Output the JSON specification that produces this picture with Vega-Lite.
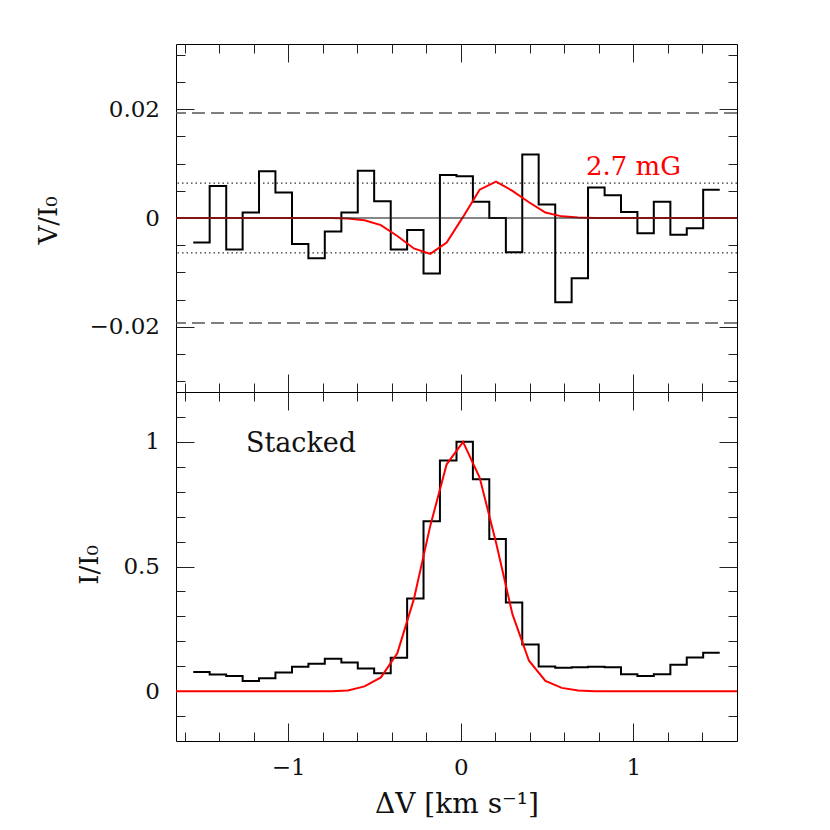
{
  "$schema": "https://vega.github.io/schema/vega-lite/v6.json",
  "width": 561,
  "height": 697,
  "autosize": {"type": "none"},
  "padding": {"left": 176, "top": 44, "right": 93, "bottom": 89},
  "background": "#ffffff",
  "config": {
    "view": {"stroke": "#000000", "strokeWidth": 1},
    "axis": {
      "grid": false,
      "domain": false,
      "labelFont": "DejaVu Serif",
      "labelFontSize": 23,
      "labelColor": "#111111",
      "titleFont": "DejaVu Serif",
      "titleFontSize": 26,
      "titleFontWeight": "normal",
      "titleColor": "#111111",
      "tickColor": "#222222",
      "tickWidth": 1,
      "labelOverlap": false,
      "labelFlush": false
    }
  },
  "datasets": {
    "vhist": [
      {"dv": -1.550, "v": -0.0045}, {"dv": -1.455, "v": 0.0059}, {"dv": -1.359, "v": -0.0058}, {"dv": -1.264, "v": 0.0010},
      {"dv": -1.169, "v": 0.0086}, {"dv": -1.074, "v": 0.0047}, {"dv": -0.978, "v": -0.0048}, {"dv": -0.883, "v": -0.0074},
      {"dv": -0.788, "v": -0.0025}, {"dv": -0.692, "v": 0.0010}, {"dv": -0.597, "v": 0.0087}, {"dv": -0.502, "v": 0.0031},
      {"dv": -0.406, "v": -0.0058}, {"dv": -0.311, "v": -0.0022}, {"dv": -0.216, "v": -0.0102}, {"dv": -0.121, "v": 0.0079},
      {"dv": -0.025, "v": 0.0077}, {"dv": 0.070, "v": 0.0030}, {"dv": 0.165, "v": 0.0000}, {"dv": 0.261, "v": -0.0063},
      {"dv": 0.356, "v": 0.0117}, {"dv": 0.451, "v": 0.0025}, {"dv": 0.547, "v": -0.0155}, {"dv": 0.642, "v": -0.0111},
      {"dv": 0.737, "v": 0.0056}, {"dv": 0.833, "v": 0.0042}, {"dv": 0.928, "v": 0.0011}, {"dv": 1.023, "v": -0.0028},
      {"dv": 1.118, "v": 0.0030}, {"dv": 1.214, "v": -0.0031}, {"dv": 1.309, "v": -0.0019}, {"dv": 1.404, "v": 0.0052},
      {"dv": 1.500, "v": 0.0052}
    ],
    "vmodel": [
      {"dv": -1.650, "v": 0}, {"dv": -1.511, "v": 0}, {"dv": -1.416, "v": 0}, {"dv": -1.321, "v": 0}, {"dv": -1.226, "v": 0},
      {"dv": -1.130, "v": 0}, {"dv": -1.035, "v": 0}, {"dv": -0.940, "v": 0}, {"dv": -0.844, "v": 0},
      {"dv": -0.749, "v": 0}, {"dv": -0.654, "v": -0.0001}, {"dv": -0.558, "v": -0.0004}, {"dv": -0.463, "v": -0.0013},
      {"dv": -0.368, "v": -0.0033}, {"dv": -0.272, "v": -0.0056}, {"dv": -0.177, "v": -0.0066}, {"dv": -0.082, "v": -0.0045},
      {"dv": 0.013, "v": 0.0002}, {"dv": 0.109, "v": 0.0052}, {"dv": 0.204, "v": 0.0067}, {"dv": 0.299, "v": 0.0050},
      {"dv": 0.395, "v": 0.0029}, {"dv": 0.490, "v": 0.0010}, {"dv": 0.585, "v": 0.0003}, {"dv": 0.680, "v": 0.0001},
      {"dv": 0.776, "v": 0}, {"dv": 0.871, "v": 0}, {"dv": 0.966, "v": 0}, {"dv": 1.062, "v": 0}, {"dv": 1.157, "v": 0},
      {"dv": 1.252, "v": 0}, {"dv": 1.347, "v": 0}, {"dv": 1.443, "v": 0}, {"dv": 1.600, "v": 0}
    ],
    "ihist": [
      {"dv": -1.550, "i": 0.077}, {"dv": -1.455, "i": 0.067}, {"dv": -1.359, "i": 0.061}, {"dv": -1.264, "i": 0.041},
      {"dv": -1.169, "i": 0.052}, {"dv": -1.074, "i": 0.075}, {"dv": -0.978, "i": 0.098}, {"dv": -0.883, "i": 0.110},
      {"dv": -0.788, "i": 0.130}, {"dv": -0.692, "i": 0.115}, {"dv": -0.597, "i": 0.091}, {"dv": -0.502, "i": 0.072},
      {"dv": -0.406, "i": 0.134}, {"dv": -0.311, "i": 0.372}, {"dv": -0.216, "i": 0.682}, {"dv": -0.121, "i": 0.925},
      {"dv": -0.025, "i": 1.000}, {"dv": 0.070, "i": 0.850}, {"dv": 0.165, "i": 0.610}, {"dv": 0.261, "i": 0.356},
      {"dv": 0.356, "i": 0.187}, {"dv": 0.451, "i": 0.099}, {"dv": 0.547, "i": 0.094}, {"dv": 0.642, "i": 0.096},
      {"dv": 0.737, "i": 0.098}, {"dv": 0.833, "i": 0.096}, {"dv": 0.928, "i": 0.068}, {"dv": 1.023, "i": 0.061},
      {"dv": 1.118, "i": 0.068}, {"dv": 1.214, "i": 0.106}, {"dv": 1.309, "i": 0.135}, {"dv": 1.404, "i": 0.154},
      {"dv": 1.500, "i": 0.154}
    ],
    "imodel": [
      {"dv": -1.650, "i": 0}, {"dv": -1.511, "i": 0}, {"dv": -1.416, "i": 0}, {"dv": -1.321, "i": 0}, {"dv": -1.226, "i": 0},
      {"dv": -1.130, "i": 0}, {"dv": -1.035, "i": 0}, {"dv": -0.940, "i": 0}, {"dv": -0.844, "i": 0},
      {"dv": -0.749, "i": 0}, {"dv": -0.654, "i": 0.003}, {"dv": -0.558, "i": 0.019}, {"dv": -0.463, "i": 0.055},
      {"dv": -0.368, "i": 0.152}, {"dv": -0.272, "i": 0.369}, {"dv": -0.177, "i": 0.663}, {"dv": -0.082, "i": 0.910},
      {"dv": 0.013, "i": 1.000}, {"dv": 0.109, "i": 0.857}, {"dv": 0.204, "i": 0.596}, {"dv": 0.299, "i": 0.309},
      {"dv": 0.395, "i": 0.122}, {"dv": 0.490, "i": 0.041}, {"dv": 0.585, "i": 0.013}, {"dv": 0.680, "i": 0.003},
      {"dv": 0.776, "i": 0}, {"dv": 0.871, "i": 0}, {"dv": 0.966, "i": 0}, {"dv": 1.062, "i": 0}, {"dv": 1.157, "i": 0},
      {"dv": 1.252, "i": 0}, {"dv": 1.347, "i": 0}, {"dv": 1.443, "i": 0}, {"dv": 1.600, "i": 0}
    ],
    "dashed": [{"v": 0.0193}, {"v": -0.0193}],
    "dotted": [{"v": 0.0064}, {"v": -0.0064}],
    "zero": [{"v": 0}],
    "vnote": [{"dv": 1.0, "v": 0.0079, "label": "2.7 mG"}],
    "inote": [{"dv": -0.926, "i": 0.96, "label": "Stacked"}]
  },
  "resolve": {"scale": {"y": "independent"}, "axis": {"x": "independent", "y": "independent"}},
  "layer": [
    {
      "data": {"name": "dashed"},
      "mark": {"type": "rule", "color": "#555555", "strokeWidth": 1.5, "strokeDash": [13, 6]},
      "encoding": {
        "y": {"field": "v", "type": "quantitative", "scale": {"domain": [-0.032, 0.032], "range": [348, 0], "nice": false, "zero": false}, "axis": null}
      }
    },
    {
      "data": {"name": "dotted"},
      "mark": {"type": "rule", "color": "#333333", "strokeWidth": 1.2, "strokeDash": [1.5, 3]},
      "encoding": {
        "y": {"field": "v", "type": "quantitative", "scale": {"domain": [-0.032, 0.032], "range": [348, 0], "nice": false, "zero": false}, "axis": null}
      }
    },
    {
      "data": {"name": "vhist"},
      "mark": {"type": "line", "interpolate": "step-after", "color": "#000000", "strokeWidth": 2},
      "encoding": {
        "x": {"field": "dv", "type": "quantitative", "scale": {"domain": [-1.65, 1.6], "nice": false, "zero": false},
          "axis": {"orient": "top", "values": [-1.6,-1.4,-1.2,-1,-0.8,-0.6,-0.4,-0.2,0,0.2,0.4,0.6,0.8,1,1.2,1.4],
            "tickSize": {"condition": {"test": "abs(datum.value - round(datum.value)) < 0.001", "value": -18}, "value": -9},
            "labels": false, "title": null}},
        "y": {"field": "v", "type": "quantitative", "scale": {"domain": [-0.032, 0.032], "range": [348, 0], "nice": false, "zero": false},
          "axis": {"orient": "left", "values": [-0.03,-0.025,-0.02,-0.015,-0.01,-0.005,0,0.005,0.01,0.015,0.02,0.025,0.03],
            "tickSize": {"condition": {"test": "abs(datum.value*50 - round(datum.value*50)) < 0.001", "value": -18}, "value": -9},
            "format": "~g",
            "labelExpr": "abs(datum.value*50 - round(datum.value*50)) < 0.001 ? datum.label : ''",
            "labelPadding": 34.5,
            "title": "V/I₀", "titleX": -120, "titleY": 176, "titleAngle": 270, "titleBaseline": "alphabetic", "titleAlign": "center"}}
      }
    },
    {
      "data": {"name": "vmodel"},
      "mark": {"type": "line", "color": "#ff0000", "strokeWidth": 2},
      "encoding": {
        "x": {"field": "dv", "type": "quantitative", "scale": {"domain": [-1.65, 1.6], "nice": false, "zero": false},
          "axis": {"orient": "bottom", "offset": -349, "values": [-1.6,-1.4,-1.2,-1,-0.8,-0.6,-0.4,-0.2,0,0.2,0.4,0.6,0.8,1,1.2,1.4],
            "tickSize": {"condition": {"test": "abs(datum.value - round(datum.value)) < 0.001", "value": -18}, "value": -9},
            "labels": false, "title": null, "domain": true, "domainColor": "#000000", "domainWidth": 1}},
        "y": {"field": "v", "type": "quantitative", "scale": {"domain": [-0.032, 0.032], "range": [348, 0], "nice": false, "zero": false},
          "axis": {"orient": "right", "values": [-0.03,-0.025,-0.02,-0.015,-0.01,-0.005,0,0.005,0.01,0.015,0.02,0.025,0.03],
            "tickSize": {"condition": {"test": "abs(datum.value*50 - round(datum.value*50)) < 0.001", "value": -18}, "value": -9},
            "labels": false, "title": null}}
      }
    },
    {
      "data": {"name": "zero"},
      "mark": {"type": "rule", "color": "#222222", "opacity": 0.55, "strokeWidth": 2},
      "encoding": {
        "y": {"field": "v", "type": "quantitative", "scale": {"domain": [-0.032, 0.032], "range": [348, 0], "nice": false, "zero": false}, "axis": null}
      }
    },
    {
      "data": {"name": "ihist"},
      "mark": {"type": "line", "interpolate": "step-after", "color": "#000000", "strokeWidth": 2},
      "encoding": {
        "x": {"field": "dv", "type": "quantitative", "scale": {"domain": [-1.65, 1.6], "nice": false, "zero": false},
          "axis": {"orient": "bottom", "values": [-1.6,-1.4,-1.2,-1,-0.8,-0.6,-0.4,-0.2,0,0.2,0.4,0.6,0.8,1,1.2,1.4],
            "tickSize": {"condition": {"test": "abs(datum.value - round(datum.value)) < 0.001", "value": -18}, "value": -9},
            "format": "~g",
            "labelExpr": "abs(datum.value - round(datum.value)) < 0.001 ? datum.label : ''",
            "labelPadding": 51, "labelBaseline": "alphabetic",
            "title": "ΔV [km s⁻¹]", "titleFontSize": 28, "titleX": 280.5, "titleY": 71, "titleBaseline": "alphabetic", "titleAlign": "center"}},
        "y": {"field": "i", "type": "quantitative", "scale": {"domain": [-0.2, 1.2], "range": [697, 348], "nice": false, "zero": false},
          "axis": {"orient": "left", "values": [-0.1,0,0.1,0.2,0.3,0.4,0.5,0.6,0.7,0.8,0.9,1,1.1],
            "tickSize": {"condition": {"test": "abs(datum.value*2 - round(datum.value*2)) < 0.001", "value": -18}, "value": -9},
            "format": "~g",
            "labelExpr": "abs(datum.value*2 - round(datum.value*2)) < 0.001 ? datum.label : ''",
            "labelPadding": 34.5,
            "title": "I/I₀", "titleX": -79, "titleY": 520.5, "titleAngle": 270, "titleBaseline": "alphabetic", "titleAlign": "center"}}
      }
    },
    {
      "data": {"name": "imodel"},
      "mark": {"type": "line", "color": "#ff0000", "strokeWidth": 2},
      "encoding": {
        "x": {"field": "dv", "type": "quantitative", "scale": {"domain": [-1.65, 1.6], "nice": false, "zero": false},
          "axis": {"orient": "top", "offset": -348, "values": [-1.6,-1.4,-1.2,-1,-0.8,-0.6,-0.4,-0.2,0,0.2,0.4,0.6,0.8,1,1.2,1.4],
            "tickSize": {"condition": {"test": "abs(datum.value - round(datum.value)) < 0.001", "value": -18}, "value": -9},
            "labels": false, "title": null}},
        "y": {"field": "i", "type": "quantitative", "scale": {"domain": [-0.2, 1.2], "range": [697, 348], "nice": false, "zero": false},
          "axis": {"orient": "right", "values": [-0.1,0,0.1,0.2,0.3,0.4,0.5,0.6,0.7,0.8,0.9,1,1.1],
            "tickSize": {"condition": {"test": "abs(datum.value*2 - round(datum.value*2)) < 0.001", "value": -18}, "value": -9},
            "labels": false, "title": null}}
      }
    },
    {
      "data": {"name": "vnote"},
      "mark": {"type": "text", "font": "DejaVu Serif", "fontSize": 26, "color": "#ff0000", "align": "center", "baseline": "alphabetic"},
      "encoding": {
        "x": {"field": "dv", "type": "quantitative", "scale": {"domain": [-1.65, 1.6], "nice": false, "zero": false}, "axis": null},
        "y": {"field": "v", "type": "quantitative", "scale": {"domain": [-0.032, 0.032], "range": [348, 0], "nice": false, "zero": false}, "axis": null},
        "text": {"field": "label"}
      }
    },
    {
      "data": {"name": "inote"},
      "mark": {"type": "text", "font": "DejaVu Serif", "fontSize": 27, "color": "#111111", "align": "center", "baseline": "alphabetic"},
      "encoding": {
        "x": {"field": "dv", "type": "quantitative", "scale": {"domain": [-1.65, 1.6], "nice": false, "zero": false}, "axis": null},
        "y": {"field": "i", "type": "quantitative", "scale": {"domain": [-0.2, 1.2], "range": [697, 348], "nice": false, "zero": false}, "axis": null},
        "text": {"field": "label"}
      }
    }
  ]
}
